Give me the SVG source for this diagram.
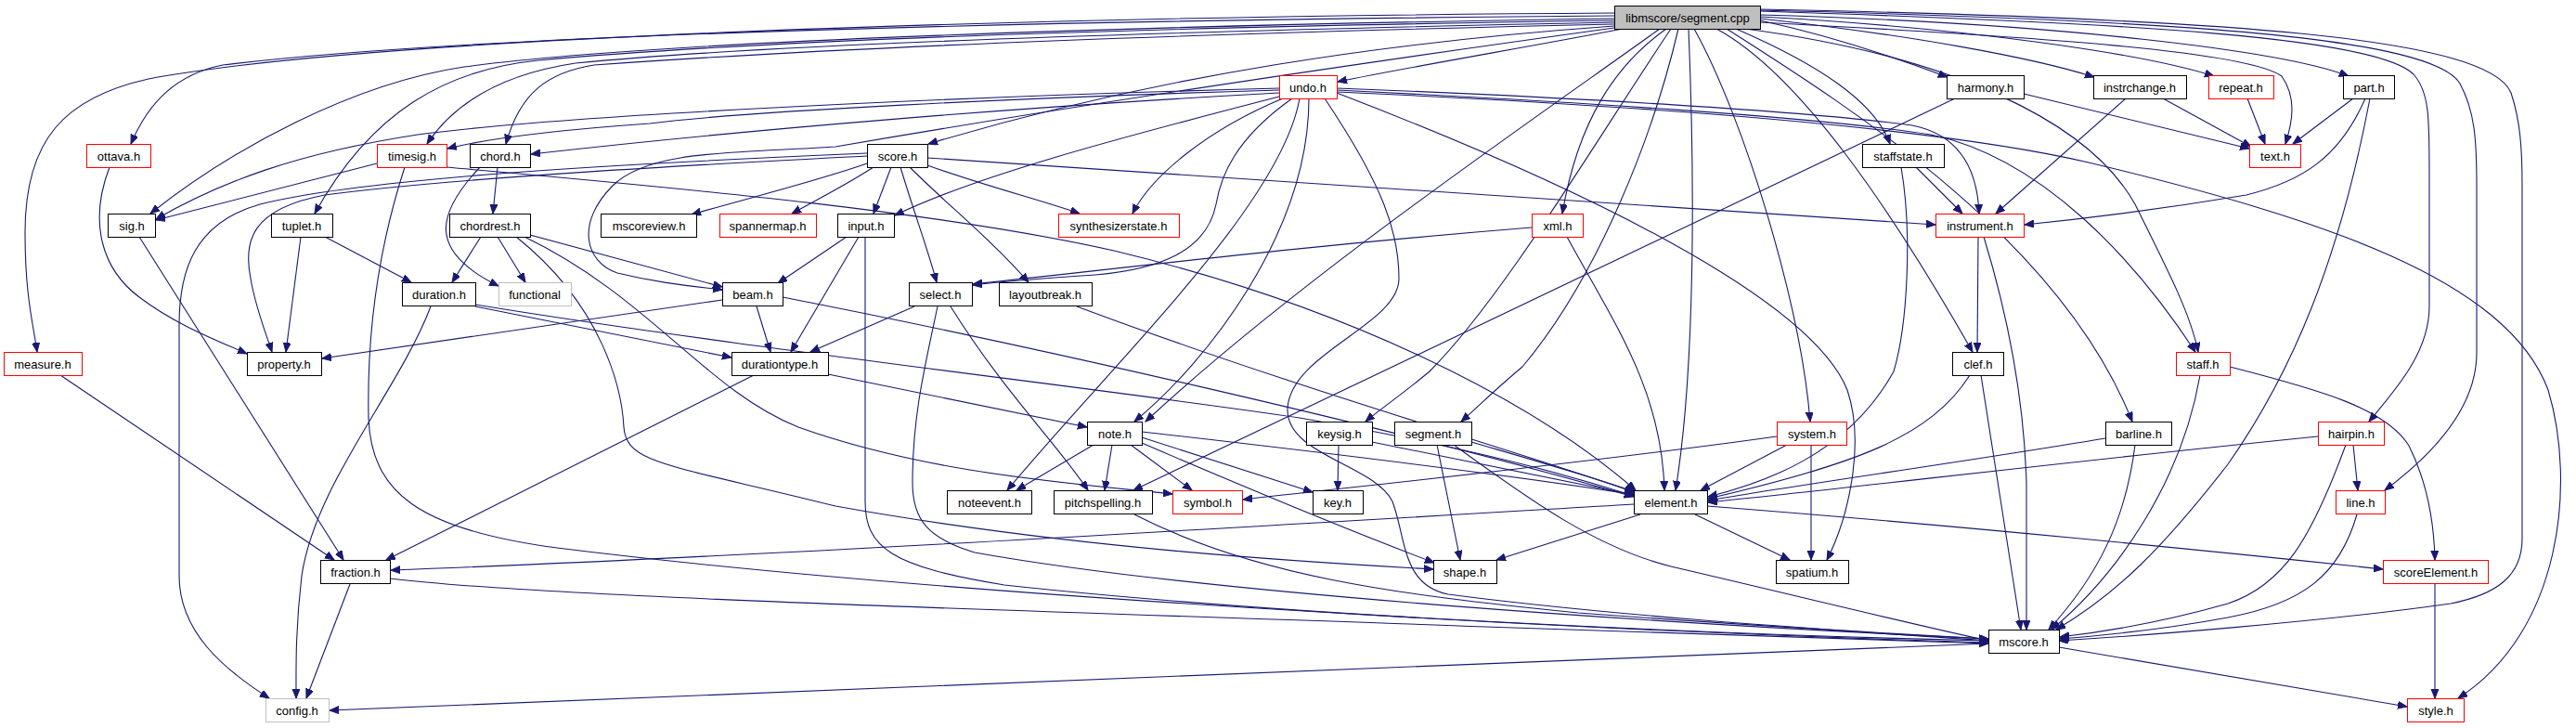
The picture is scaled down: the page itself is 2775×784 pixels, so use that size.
<svg xmlns="http://www.w3.org/2000/svg" width="2775" height="784" viewBox="0 0 2775 784">
<defs>
<style>
.node rect{fill:#fff;stroke:#000;stroke-width:1}
.red rect{stroke:#ff0000}
.gray rect{stroke:#bfbfbf}
.root rect{fill:#bfbfbf;stroke:#000}
.node text{font-family:"Liberation Sans",Arial,sans-serif;font-size:13px;text-anchor:middle;fill:#000}
#edges path{fill:none;stroke:#191970;stroke-width:1.1;marker-end:url(#arr)}
</style>
<marker id="arr" markerUnits="userSpaceOnUse" markerWidth="11" markerHeight="9" refX="10" refY="4" orient="auto">
<path d="M0,0 L10,4 L0,8 z" fill="#191970" stroke="#191970" stroke-width="1"/>
</marker>
</defs>
<rect x="0" y="0" width="2775" height="784" fill="#fff"/>
<g id="edges">
<path d="M1748,31 C1650,50 1530,70 1441,88"/>
<path d="M1896,22 C1980,40 2050,65 2098,83"/>
<path d="M1896,20 C2060,38 2190,62 2256,83"/>
<path d="M1896,18 C2120,30 2310,58 2385,82"/>
<path d="M1896,16 C2220,25 2460,55 2530,82"/>
<path d="M1896,24 C2200,40 2420,55 2458,82 C2474,105 2470,130 2462,155"/>
<path d="M1870,31 C1960,70 2020,110 2036,155"/>
<path d="M1795,31 C1740,70 1700,130 1683,230"/>
<path d="M1880,31 C2100,60 2250,130 2300,220 C2340,300 2360,340 2368,379"/>
<path d="M1849,31 C1940,80 2040,230 2125,379"/>
<path d="M1860,31 C2000,120 2220,260 2297,454"/>
<path d="M1819,31 C1826,200 1826,400 1805,528"/>
<path d="M1825,31 C1880,130 1940,330 1950,454"/>
<path d="M1808,31 C1780,150 1720,300 1640,395 C1610,420 1590,440 1574,454"/>
<path d="M1800,31 C1720,150 1620,320 1540,400 C1510,425 1485,442 1471,454"/>
<path d="M1788,31 C1650,130 1400,300 1234,454"/>
<path d="M1896,12 C2300,25 2560,40 2600,80 C2618,100 2617,130 2617,200 L2617,330 C2617,380 2580,420 2552,454"/>
<path d="M1896,11 C2350,22 2620,40 2650,90 C2666,120 2668,150 2668,200 L2668,380 C2668,440 2620,490 2569,528"/>
<path d="M1896,10 C2400,20 2680,40 2705,100 C2715,130 2717,160 2717,200 L2717,580 C2717,620 2690,640 2640,650 C2500,670 2300,685 2218,690"/>
<path d="M1739,28 C1500,45 1250,80 1000,155"/>
<path d="M1739,30 C1450,70 1150,115 900,158 C800,165 700,160 660,200 C620,240 630,282 665,294 C710,305 745,308 778,312"/>
<path d="M1739,26 C1200,38 850,55 640,70 C590,78 560,100 545,155"/>
<path d="M1739,24 C1200,35 800,50 620,68 C540,80 490,110 460,155"/>
<path d="M1739,22 C1200,30 800,45 580,65 C480,75 400,120 339,230"/>
<path d="M1739,20 C1200,28 700,45 500,72 C380,90 250,160 162,230"/>
<path d="M1739,17 C1100,22 500,38 240,70 C190,80 160,110 141,155"/>
<path d="M1739,14 C1100,18 400,40 160,85 C70,105 27,150 27,250 C27,320 36,350 40,379"/>
<path d="M1378,95 C1000,105 600,125 450,145 C320,165 240,195 168,236"/>
<path d="M1378,97 C1100,105 800,120 700,133 C600,140 530,148 482,160"/>
<path d="M1378,100 C1100,115 800,140 572,166"/>
<path d="M1378,104 C1200,150 1050,190 964,232"/>
<path d="M1382,106 C1300,140 1240,190 1220,230"/>
<path d="M1392,106 C1330,150 1315,190 1310,220 C1300,270 1250,290 1180,296 C1120,300 1080,303 1048,307"/>
<path d="M1400,106 C1380,220 1200,390 1085,528"/>
<path d="M1410,106 C1410,250 1300,390 1222,454"/>
<path d="M1427,106 C1490,200 1507,250 1507,300 C1507,350 1390,380 1387,440 C1385,490 1480,500 1500,540 C1515,580 1510,630 1560,640 C1750,665 2000,680 2142,690"/>
<path d="M1440,100 C1700,200 1950,320 1990,420 C2010,480 1990,560 1968,603"/>
<path d="M1440,95 C1700,105 1950,120 2060,135 C2110,145 2130,180 2132,230"/>
<path d="M1440,97 C1700,110 1950,125 2080,145 C2200,170 2300,280 2365,379"/>
<path d="M1440,99 C1800,115 2100,140 2250,175 C2500,235 2700,300 2745,420 C2775,520 2760,680 2648,752"/>
<path d="M934,176 C880,195 800,215 745,231"/>
<path d="M941,180 C910,200 880,215 853,230"/>
<path d="M960,180 L941,230"/>
<path d="M970,180 C985,230 1000,270 1009,304"/>
<path d="M980,180 C1020,220 1070,260 1108,304"/>
<path d="M999,178 C1060,200 1120,215 1163,230"/>
<path d="M999,170 C1400,195 1800,220 2085,242"/>
<path d="M934,168 C800,175 500,190 350,210 C270,225 262,260 270,300 C275,330 285,355 293,379"/>
<path d="M934,165 C700,175 400,190 280,220 C210,240 193,290 193,350 L193,620 C193,680 240,720 290,752"/>
<path d="M2064,180 L2114,230"/>
<path d="M2048,180 C2060,250 2055,350 2040,400 C1990,490 1900,520 1840,535"/>
<path d="M2330,106 L2425,158"/>
<path d="M2290,106 L2150,230"/>
<path d="M2180,101 L2423,160"/>
<path d="M2106,106 L1221,528"/>
<path d="M2421,106 L2440,155"/>
<path d="M2535,106 L2470,155"/>
<path d="M2548,106 C2520,170 2480,195 2420,210 C2330,225 2250,235 2181,242"/>
<path d="M2553,106 C2520,280 2470,400 2400,500 C2330,590 2280,640 2215,678"/>
<path d="M2131,255 L2130,379"/>
<path d="M2137,255 C2160,330 2180,420 2183,520 L2183,678"/>
<path d="M2122,404 C2080,470 2000,500 1840,537"/>
<path d="M2134,404 L2177,678"/>
<path d="M2370,404 C2350,520 2280,620 2210,678"/>
<path d="M2402,395 C2500,420 2570,440 2595,480 C2615,520 2622,560 2623,603"/>
<path d="M2268,472 C2100,500 1950,520 1840,539"/>
<path d="M2300,479 C2290,560 2260,620 2207,678"/>
<path d="M2497,470 C2200,500 2000,525 1840,541"/>
<path d="M2535,479 L2540,528"/>
<path d="M2527,479 C2490,580 2460,630 2400,650 C2330,670 2270,680 2219,686"/>
<path d="M2539,554 C2520,620 2480,650 2400,665 C2330,678 2270,684 2219,688"/>
<path d="M2623,629 L2623,752"/>
<path d="M2218,697 L2593,761"/>
<path d="M2142,693 L355,765"/>
<path d="M1760,543 C1300,570 800,600 421,614"/>
<path d="M1767,554 L1612,603"/>
<path d="M1826,554 L1928,603"/>
<path d="M1839,545 C2100,565 2400,595 2567,613"/>
<path d="M1914,470 C1700,500 1450,525 1339,538"/>
<path d="M1925,479 L1832,528"/>
<path d="M1951,479 L1951,603"/>
<path d="M1585,476 C1650,495 1710,512 1762,530"/>
<path d="M1548,479 L1573,603"/>
<path d="M1566,479 C1650,540 1720,590 1800,610 C1950,645 2050,670 2142,690"/>
<path d="M1442,479 L1441,528"/>
<path d="M1478,476 C1600,500 1700,520 1760,533"/>
<path d="M1178,479 L1095,528"/>
<path d="M1198,479 L1190,528"/>
<path d="M1218,479 L1284,528"/>
<path d="M1230,471 L1414,530"/>
<path d="M1230,477 C1330,520 1450,570 1545,606"/>
<path d="M1230,465 C1450,490 1650,515 1762,533"/>
<path d="M892,403 L1171,460"/>
<path d="M812,404 L416,603"/>
<path d="M985,330 L873,379"/>
<path d="M1024,330 C1080,420 1140,480 1172,528"/>
<path d="M1010,330 C995,400 983,450 983,520 C983,560 1000,580 1050,595 C1300,640 1800,672 2142,688"/>
<path d="M912,255 L838,305"/>
<path d="M925,255 L852,379"/>
<path d="M932,255 L932,540 C932,590 960,610 1082,630 C1400,665 1900,685 2142,692"/>
<path d="M1650,245 C1400,265 1200,290 1048,306"/>
<path d="M1688,255 C1740,350 1790,420 1793,528"/>
<path d="M778,323 L347,386"/>
<path d="M815,330 L830,379"/>
<path d="M843,320 C1100,370 1500,460 1760,535"/>
<path d="M1160,330 C1400,420 1650,490 1760,530"/>
<path d="M512,330 L788,385"/>
<path d="M512,328 C800,375 1200,420 1400,450 C1600,485 1700,515 1760,534"/>
<path d="M464,330 C430,420 340,520 325,620 C318,680 319,720 319,752"/>
<path d="M324,255 L308,379"/>
<path d="M350,255 L443,304"/>
<path d="M150,255 L370,603"/>
<path d="M65,404 L360,603"/>
<path d="M118,180 C95,240 110,290 150,320 C190,350 230,365 266,381"/>
<path d="M406,176 L168,237"/>
<path d="M436,180 C410,260 395,350 397,450 C400,530 450,570 600,590 C1000,640 1700,680 2142,690"/>
<path d="M481,180 C700,200 1000,225 1200,270 C1450,330 1650,430 1762,528"/>
<path d="M536,180 L531,230"/>
<path d="M517,180 C470,230 460,270 537,308"/>
<path d="M518,255 L487,304"/>
<path d="M536,255 L566,304"/>
<path d="M571,253 L778,309"/>
<path d="M565,255 C700,320 760,420 860,460 C1000,510 1150,520 1263,532"/>
<path d="M556,255 C650,330 670,420 672,460 C675,500 720,500 900,545 C1150,590 1400,605 1544,613"/>
<path d="M377,629 L330,752"/>
<path d="M420,623 C600,645 1200,660 1600,675 C1900,685 2050,690 2142,693"/>
<path d="M1222,554 C1350,620 1500,640 1700,660 C1900,675 2050,683 2142,688"/>
</g>
<g id="n-segmentcpp" class="node root"><rect x="1739.5" y="6.5" width="157" height="25"/><text x="1818" y="24">libmscore/segment.cpp</text></g>
<g id="n-undo" class="node red"><rect x="1378.5" y="81.5" width="62" height="25"/><text x="1409" y="99">undo.h</text></g>
<g id="n-harmony" class="node"><rect x="2097.5" y="81.5" width="83" height="25"/><text x="2139" y="99">harmony.h</text></g>
<g id="n-instrchange" class="node"><rect x="2255.5" y="81.5" width="100" height="25"/><text x="2305" y="99">instrchange.h</text></g>
<g id="n-repeat" class="node red"><rect x="2379.5" y="81.5" width="70" height="25"/><text x="2414" y="99">repeat.h</text></g>
<g id="n-part" class="node"><rect x="2524.5" y="81.5" width="55" height="25"/><text x="2552" y="99">part.h</text></g>
<g id="n-ottava" class="node red"><rect x="93.5" y="155.5" width="69" height="25"/><text x="128" y="173">ottava.h</text></g>
<g id="n-timesig" class="node red"><rect x="406.5" y="155.5" width="75" height="25"/><text x="444" y="173">timesig.h</text></g>
<g id="n-chord" class="node"><rect x="506.5" y="155.5" width="65" height="25"/><text x="539" y="173">chord.h</text></g>
<g id="n-score" class="node"><rect x="934.5" y="155.5" width="65" height="25"/><text x="967" y="173">score.h</text></g>
<g id="n-staffstate" class="node"><rect x="2006.5" y="155.5" width="88" height="25"/><text x="2050" y="173">staffstate.h</text></g>
<g id="n-text" class="node red"><rect x="2423.5" y="155.5" width="55" height="25"/><text x="2451" y="173">text.h</text></g>
<g id="n-sig" class="node"><rect x="116.5" y="230.5" width="51" height="25"/><text x="142" y="248">sig.h</text></g>
<g id="n-tuplet" class="node"><rect x="292.5" y="230.5" width="66" height="25"/><text x="325" y="248">tuplet.h</text></g>
<g id="n-chordrest" class="node"><rect x="484.5" y="230.5" width="87" height="25"/><text x="528" y="248">chordrest.h</text></g>
<g id="n-mscoreview" class="node"><rect x="647.5" y="230.5" width="103" height="25"/><text x="699" y="248">mscoreview.h</text></g>
<g id="n-spannermap" class="node red"><rect x="775.5" y="230.5" width="104" height="25"/><text x="827" y="248">spannermap.h</text></g>
<g id="n-input" class="node"><rect x="902.5" y="230.5" width="61" height="25"/><text x="933" y="248">input.h</text></g>
<g id="n-synthesizerstate" class="node red"><rect x="1140.5" y="230.5" width="130" height="25"/><text x="1205" y="248">synthesizerstate.h</text></g>
<g id="n-xml" class="node red"><rect x="1650.5" y="230.5" width="55" height="25"/><text x="1678" y="248">xml.h</text></g>
<g id="n-instrument" class="node red"><rect x="2085.5" y="230.5" width="95" height="25"/><text x="2133" y="248">instrument.h</text></g>
<g id="n-duration" class="node"><rect x="433.5" y="304.5" width="79" height="25"/><text x="473" y="322">duration.h</text></g>
<g id="n-functional" class="node gray"><rect x="537.5" y="304.5" width="78" height="25"/><text x="576" y="322">functional</text></g>
<g id="n-beam" class="node"><rect x="778.5" y="304.5" width="65" height="25"/><text x="811" y="322">beam.h</text></g>
<g id="n-select" class="node"><rect x="979.5" y="304.5" width="68" height="25"/><text x="1013" y="322">select.h</text></g>
<g id="n-layoutbreak" class="node"><rect x="1076.5" y="304.5" width="100" height="25"/><text x="1126" y="322">layoutbreak.h</text></g>
<g id="n-measure" class="node red"><rect x="4.5" y="379.5" width="84" height="25"/><text x="46" y="397">measure.h</text></g>
<g id="n-property" class="node"><rect x="266.5" y="379.5" width="80" height="25"/><text x="306" y="397">property.h</text></g>
<g id="n-durationtype" class="node"><rect x="788.5" y="379.5" width="104" height="25"/><text x="840" y="397">durationtype.h</text></g>
<g id="n-clef" class="node"><rect x="2103.5" y="379.5" width="55" height="25"/><text x="2131" y="397">clef.h</text></g>
<g id="n-staff" class="node red"><rect x="2344.5" y="379.5" width="58" height="25"/><text x="2373" y="397">staff.h</text></g>
<g id="n-note" class="node"><rect x="1171.5" y="454.5" width="59" height="25"/><text x="1201" y="472">note.h</text></g>
<g id="n-keysig" class="node"><rect x="1407.5" y="454.5" width="71" height="25"/><text x="1443" y="472">keysig.h</text></g>
<g id="n-segmenth" class="node"><rect x="1502.5" y="454.5" width="83" height="25"/><text x="1544" y="472">segment.h</text></g>
<g id="n-system" class="node red"><rect x="1914.5" y="454.5" width="75" height="25"/><text x="1952" y="472">system.h</text></g>
<g id="n-barline" class="node"><rect x="2268.5" y="454.5" width="71" height="25"/><text x="2304" y="472">barline.h</text></g>
<g id="n-hairpin" class="node red"><rect x="2497.5" y="454.5" width="71" height="25"/><text x="2533" y="472">hairpin.h</text></g>
<g id="n-noteevent" class="node"><rect x="1020.5" y="528.5" width="91" height="25"/><text x="1066" y="546">noteevent.h</text></g>
<g id="n-pitchspelling" class="node"><rect x="1135.5" y="528.5" width="106" height="25"/><text x="1188" y="546">pitchspelling.h</text></g>
<g id="n-symbol" class="node red"><rect x="1263.5" y="528.5" width="75" height="25"/><text x="1301" y="546">symbol.h</text></g>
<g id="n-key" class="node"><rect x="1414.5" y="528.5" width="54" height="25"/><text x="1441" y="546">key.h</text></g>
<g id="n-element" class="node"><rect x="1760.5" y="528.5" width="79" height="25"/><text x="1800" y="546">element.h</text></g>
<g id="n-line" class="node red"><rect x="2516.5" y="528.5" width="53" height="25"/><text x="2543" y="546">line.h</text></g>
<g id="n-fraction" class="node"><rect x="345.5" y="603.5" width="75" height="25"/><text x="383" y="621">fraction.h</text></g>
<g id="n-shape" class="node"><rect x="1544.5" y="603.5" width="68" height="25"/><text x="1578" y="621">shape.h</text></g>
<g id="n-spatium" class="node"><rect x="1913.5" y="603.5" width="78" height="25"/><text x="1952" y="621">spatium.h</text></g>
<g id="n-scoreElement" class="node red"><rect x="2567.5" y="603.5" width="113" height="25"/><text x="2624" y="621">scoreElement.h</text></g>
<g id="n-mscore" class="node"><rect x="2142.5" y="678.5" width="76" height="25"/><text x="2180" y="696">mscore.h</text></g>
<g id="n-config" class="node gray"><rect x="286.5" y="752.5" width="68" height="25"/><text x="320" y="770">config.h</text></g>
<g id="n-style" class="node red"><rect x="2593.5" y="752.5" width="61" height="25"/><text x="2624" y="770">style.h</text></g>
</svg>
